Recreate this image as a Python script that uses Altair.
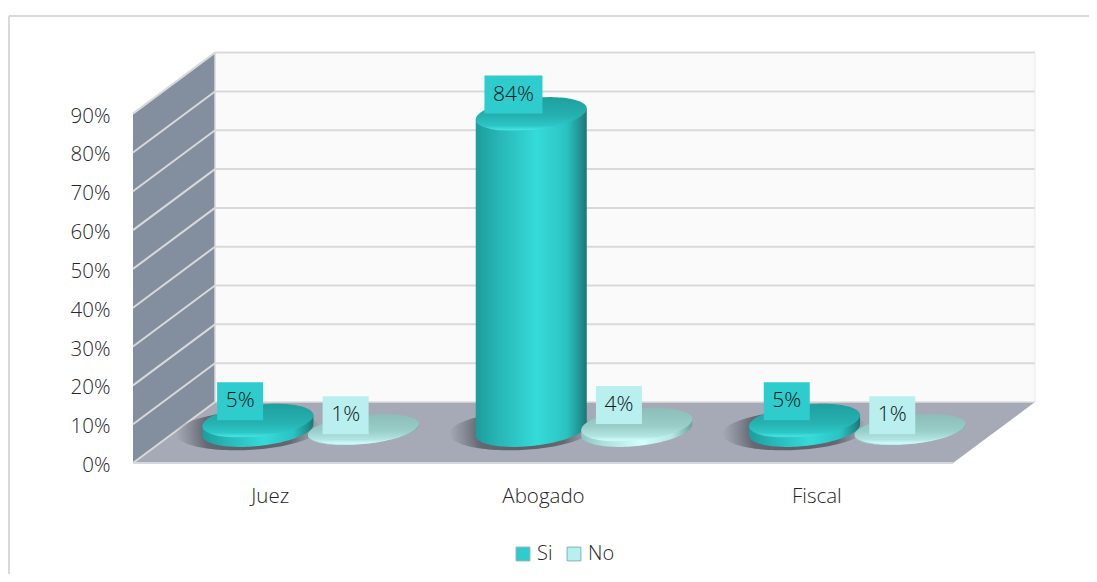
import altair as alt
import pandas as pd
import numpy as np

categories = ["Juez", "Abogado", "Fiscal"]
si_values = [5, 84, 5]
no_values = [1, 4, 1]
y_ticks = [0, 10, 20, 30, 40, 50, 60, 70, 80, 90]
series_names = ["Si", "No"]

FONT = "Open Sans"
PX_CAT = 273.33   # pixels per category along x
PX_PCT = 3.882    # pixels per percentage point
DX = 82 / PX_CAT  # depth offset of the floor, x units
DY = 61 / PX_PCT  # depth offset of the floor, value units
W, H = 1081, 566
X0 = 125          # pixel of category edge 0 inside the view
Y0 = 455          # pixel of value 0 inside the view
TEXT = "#262626"

x_scale = alt.Scale(domain=[0, 3], range=[X0, X0 + 3 * PX_CAT], clamp=False, nice=False, zero=False)
y_scale = alt.Scale(domain=[0, 90], range=[Y0, Y0 - 90 * PX_PCT], clamp=False, nice=False, zero=False)

x_axis = alt.Axis(
    values=[0.5, 1.5, 2.5], labelExpr="['" + "','".join(categories) + "'][floor(datum.value)]",
    domain=False, ticks=False, grid=False, labelFont=FONT, labelFontSize=20.5, labelFontWeight=300,
    labelColor=TEXT, labelPadding=0, offset=Y0 + 23 - H, labelBaseline="top",
    labelFlush=False, labelOverlap=False, title=None)
y_axis = alt.Axis(
    values=y_ticks, labelExpr="datum.value + '%'", domain=False, ticks=False, grid=False,
    labelFont=FONT, labelFontSize=20.5, labelFontWeight=300, labelColor=TEXT, labelPadding=0,
    labelOffset=2.5, offset=-102, labelOverlap=False, title=None)


def enc_x(f="x"):
    return alt.X(f"{f}:Q", scale=x_scale, axis=x_axis, title=None)


def enc_y(f="y"):
    return alt.Y(f"{f}:Q", scale=y_scale, axis=y_axis, title=None)


def area(rows, fill, **kw):
    return alt.Chart(pd.DataFrame(rows, columns=["x", "y", "y2"])).mark_area(fill=fill, interpolate="linear", **kw).encode(
        x=enc_x(), y=enc_y(), y2="y2:Q"
    )


def line(rows, color, width=2, opacity=1):
    d = pd.DataFrame(rows, columns=["x", "y", "g"])
    return alt.Chart(d).mark_line(color=color, strokeWidth=width, opacity=opacity, interpolate="linear").encode(
        x=enc_x(), y=enc_y(), detail="g:N"
    )


def vgrad(stops):
    return alt.LinearGradient(gradient="linear", x1=0, y1=0, x2=0, y2=1,
                              stops=[alt.GradientStop(offset=o, color=c) for o, c in stops])


def hgrad(stops):
    return alt.LinearGradient(gradient="linear", x1=0, y1=0, x2=1, y2=0,
                              stops=[alt.GradientStop(offset=o, color=c) for o, c in stops])


GRID = "#d9d9d9"
layers = []

# walls and floor
layers.append(area([[DX, DY, DY + 90], [3 + DX, DY, DY + 90]], "#fafafa"))
layers.append(area([[0, 0, 90], [DX, DY, DY + 90]], "#838e9f"))
layers.append(area([[0, 0, 0], [DX, DY, 0], [3, DY, 0], [3 + DX, DY, DY]], "#a5aab6"))
grid = []
for t in y_ticks:
    if t > 0:
        grid += [[DX, DY + t, f"b{t}"], [3 + DX, DY + t, f"b{t}"]]
    grid += [[0, t, f"l{t}"], [DX, DY + t, f"l{t}"]]
layers.append(line(grid, GRID, 2))
layers.append(line([[0, 0, "f"], [3, 0, "f"]], "#d5d8de", 2))
layers.append(line([[DX, DY, "r"], [3 + DX, DY, "r"]], "#dcdcdc", 1.5))
layers.append(line([[DX, DY, "c"], [DX, DY + 90, "c"]], GRID, 1.5))
layers.append(line([[3 + DX, DY, "e"], [3 + DX, DY + 90, "e"]], "#ececec", 1.2))

# cylinders
A = 55.5 / PX_CAT
B = 16.0 / PX_PCT
K = 5.5 / PX_PCT
OFFS = 52.75 / PX_CAT
BASE = 33 / PX_PCT
LOSS = 2.6
us = np.cos(np.linspace(np.pi, 0, 61))

STYLE = {
    "Si": dict(
        body=[(0, "#1d9c9c"), (0.2, "#28b5b5"), (0.55, "#35dbd9"), (0.82, "#2bc2c2"), (0.95, "#1f8f8f"), (1, "#1b7474")],
        top=[(0, "#1f9f9f"), (0.55, "#26b0b0"), (0.85, "#2cc6c6"), (0.96, "#45e2e2"), (1, "#2ecccc")],
    ),
    "No": dict(
        body=[(0, "#8fc6c2"), (0.2, "#aee0dc"), (0.55, "#d2ffff"), (0.82, "#b5e6e2"), (0.95, "#80b5b0"), (1, "#6c9f9a")],
        top=[(0, "#8dbdb8"), (0.55, "#98cdc8"), (0.85, "#b3e6e2"), (0.96, "#cdfcfb"), (1, "#bdf0ee")],
    ),
}
values = {"Si": si_values, "No": no_values}
draw_order = [["No", "Si"], ["Si", "No"], ["No", "Si"]]


def centre(i, s):
    return i + 0.5 + DX / 2 + (-OFFS if s == "Si" else OFFS)


def drawn_top(v):
    return BASE + max(v - LOSS, 0.2)


def ellipse_rows(cx, cy, a=A, b=B, k=K):
    return [[cx + a * u, cy + k * u + b * np.sqrt(1 - u * u), cy + k * u - b * np.sqrt(1 - u * u)] for u in us]


# soft shadows on the floor
for i in range(3):
    shadow = alt.RadialGradient(gradient="radial", x1=0.5, y1=0.5, x2=0.5, y2=0.5, r1=0, r2=0.5, stops=[
        alt.GradientStop(offset=0, color="rgba(45,50,60,0.65)"),
        alt.GradientStop(offset=0.6, color="rgba(45,50,60,0.55)"),
        alt.GradientStop(offset=0.8, color="rgba(45,50,60,0.25)"),
        alt.GradientStop(offset=1, color="rgba(45,50,60,0)"),
    ])
    layers.append(area(ellipse_rows(centre(i, "Si") - 10 / PX_CAT, BASE - 0.5 / PX_PCT, A * 1.3, B * 1.22, K * 0.6), shadow))

for i in range(3):
    for s in draw_order[i]:
        v = values[s][i]
        cx = centre(i, s)
        top = drawn_top(v)
        # the thinnest discs are seen slightly flatter
        b = B * (0.88 if v <= 1 else 1)
        body = []
        for u in us:
            lower = BASE + K * u - b * np.sqrt(1 - u * u)
            body.append([cx + A * u, top + K * u, lower])
        layers.append(area(body, hgrad(STYLE[s]["body"])))
        layers.append(area(ellipse_rows(cx, top, b=b), vgrad(STYLE[s]["top"])))

# data labels
rows = []
for s in series_names:
    for i, v in enumerate(values[s]):
        cx = centre(i, s) - 17.8 / PX_CAT
        cy = drawn_top(v) + min(19.5, 12 + 2 * v) / PX_PCT
        hw = (29 if v >= 10 else 23) / PX_CAT
        rows.append(dict(serie=s, label=f"{v}%", xc=cx, x1=cx - hw, x2=cx + hw, yc=cy,
                         y1=cy - 19 / PX_PCT, y2=cy + 19 / PX_PCT))
labels = pd.DataFrame(rows)

boxes = alt.Chart(labels).mark_rect().encode(
    x=enc_x("x1"), x2="x2:Q", y=enc_y("y1"), y2="y2:Q",
    color=alt.Color("serie:N",
                    scale=alt.Scale(domain=series_names, range=["#2ecccd", "#b9efef"]),
                    legend=alt.Legend(orient="none", legendX=505, legendY=536, direction="horizontal",
                                      title=None, symbolType="square", symbolSize=190,
                                      symbolStrokeWidth=1, symbolStrokeColor="#7fb5b5",
                                      labelFont=FONT, labelFontSize=20, labelFontWeight=300,
                                      labelColor=TEXT, columnPadding=11, labelOffset=4)),
)
layers.append(boxes)
layers.append(alt.Chart(labels).mark_text(font=FONT, fontSize=21, fontWeight=300, color="#0a1414",
                                          align="center", baseline="middle").encode(
    x=enc_x("xc"), y=enc_y("yc"), text="label:N"))

# outer frame
layers.append(alt.Chart(pd.DataFrame({"a": [0]})).mark_rule(color="#d9d9d9", strokeWidth=2).encode(
    x=alt.value(1), y=alt.value(8), y2=alt.value(H)))
layers.append(alt.Chart(pd.DataFrame({"a": [0]})).mark_rule(color="#d9d9d9", strokeWidth=2).encode(
    x=alt.value(1), x2=alt.value(W), y=alt.value(8)))

chart = alt.layer(*layers).properties(
    width=W, height=H, padding=0, background="white",
    autosize=alt.AutoSizeParams(type="none"),
).configure_view(stroke=None)

chart.save("out.html", embed_options={"renderer": "svg", "actions": False})
